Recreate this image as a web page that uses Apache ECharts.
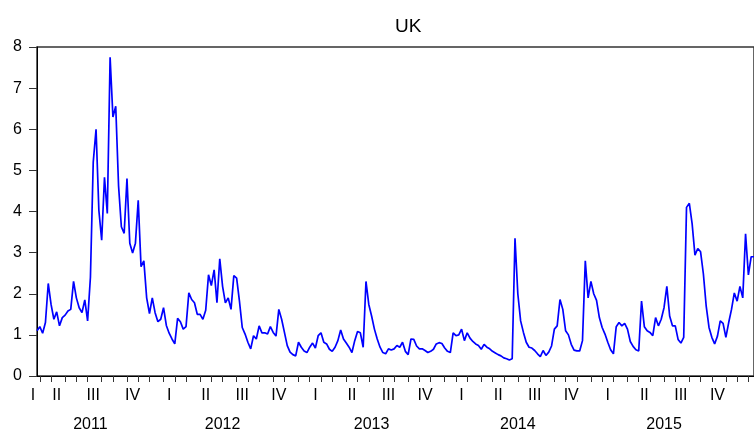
<!DOCTYPE html>
<html><head><meta charset="utf-8">
<script src="https://cdn.jsdelivr.net/npm/echarts@6/dist/echarts.min.js"></script>
<style>html,body{margin:0;padding:0;background:#fff}#c{width:754px;height:433px}</style>
</head><body><div id="c"></div>
<script>
// Weekly observations starting 2011-03-25
const startDate = [2011, 2, 25];
const stepDays = 7;
const values = [
1.10,1.20,1.04,1.30,2.25,1.74,1.38,1.56,1.22,1.42,
1.48,1.58,1.62,2.30,1.90,1.66,1.54,1.85,1.34,2.40,
5.20,6.00,4.03,3.30,4.83,3.95,7.75,6.30,6.56,4.63,
3.63,3.47,4.80,3.23,2.99,3.23,4.27,2.66,2.80,1.90,
1.52,1.90,1.54,1.32,1.38,1.66,1.23,1.04,0.90,0.78,
1.40,1.32,1.14,1.20,2.02,1.86,1.78,1.50,1.50,1.38,
1.60,2.46,2.20,2.58,1.78,2.85,2.18,1.78,1.90,1.62,
2.44,2.38,1.82,1.18,1.02,0.82,0.66,0.98,0.90,1.22,
1.05,1.05,1.02,1.20,1.06,0.97,1.62,1.38,1.06,0.74,
0.58,0.52,0.49,0.82,0.70,0.61,0.57,0.70,0.80,0.68,
0.98,1.05,0.82,0.78,0.65,0.60,0.70,0.86,1.12,0.90,
0.80,0.70,0.57,0.86,1.08,1.05,0.70,2.30,1.74,1.46,
1.14,0.90,0.70,0.57,0.54,0.66,0.63,0.66,0.74,0.70,
0.82,0.60,0.52,0.90,0.89,0.73,0.66,0.66,0.62,0.57,
0.60,0.65,0.78,0.81,0.79,0.68,0.60,0.57,1.05,0.98,
1.00,1.14,0.86,1.05,0.92,0.84,0.78,0.74,0.65,0.77,
0.70,0.66,0.60,0.56,0.52,0.49,0.44,0.42,0.39,0.42,
3.35,2.00,1.34,1.06,0.82,0.70,0.68,0.62,0.54,0.47,
0.62,0.50,0.58,0.73,1.14,1.22,1.86,1.62,1.10,1.00,
0.77,0.63,0.61,0.61,0.86,2.80,1.90,2.30,2.00,1.84,
1.42,1.18,1.02,0.82,0.64,0.54,1.20,1.30,1.22,1.28,
1.14,0.84,0.72,0.64,0.61,1.82,1.20,1.10,1.06,0.98,
1.42,1.22,1.38,1.66,2.18,1.46,1.22,1.22,0.89,0.80,
0.94,4.10,4.20,3.70,2.94,3.10,3.02,2.48,1.70,1.18,
0.94,0.78,0.97,1.34,1.28,0.94,1.30,1.62,2.02,1.82,
2.18,1.90,3.46,2.46,2.90,2.90
];
const quarterNames = ['I','II','III','IV'];
const years = [2011, 2012, 2013, 2014, 2015];
const yearLabelDates = [[2011,7,5],[2012,6,2],[2013,6,2],[2014,6,2],[2015,6,2]];
const quarterMidDates = [[1,14],[4,16],[7,15],[10,15]]; // [month(0-based), day]
const yTicks = [0,1,2,3,4,5,6,7,8];

const DAY = 86400000;
const t0 = Date.UTC(startDate[0], startDate[1], startDate[2]);
const categories = values.map((v, i) => new Date(t0 + i * stepDays * DAY).toISOString().slice(0, 10));
const nearest = (y, m, d) => Math.round((Date.UTC(y, m, d) - t0) / (stepDays * DAY));

const tickIdx = new Set();
for (let y = 2011; y <= 2016; y++) for (let m = 0; m < 12; m++) {
  const k = nearest(y, m, 1);
  if (k > 0 && k < values.length) tickIdx.add(k);
}
const quarterIdx = {};
years.forEach(y => quarterMidDates.forEach((q, qi) => {
  let k = nearest(y, q[0], q[1]);
  if (k < 0) k = 0;
  if (k < values.length - 1) quarterIdx[k] = quarterNames[qi];
}));
const yearIdx = {};
yearLabelDates.forEach((d, j) => { yearIdx[nearest(d[0], d[1], d[2])] = String(years[j]); });

const font = 'Liberation Sans, Arial, sans-serif';
const chart = echarts.init(document.getElementById('c'), null, {renderer: 'canvas'});
chart.setOption({
  animation: false,
  backgroundColor: '#fff',
  title: {
    text: 'UK', left: 390, top: 12,
    textStyle: {fontFamily: font, fontSize: 19, fontWeight: 'normal', color: '#000'}
  },
  grid: {left: 37, top: 47, right: -1.9, bottom: 52, show: true, borderColor: '#333', borderWidth: 1.5, backgroundColor: 'transparent'},
  xAxis: [{
    type: 'category', data: categories, boundaryGap: false,
    axisLine: {show: true, lineStyle: {color: '#000', width: 1}},
    axisTick: {show: true, length: 6, lineStyle: {color: '#333'}, interval: (i) => tickIdx.has(i)},
    axisLabel: {
      interval: (i) => quarterIdx[i] !== undefined,
      formatter: (v, i) => i === 0 ? '{a|' + quarterIdx[i] + '}' : (quarterIdx[i] || ''),
      rich: {a: {fontFamily: font, fontSize: 16, color: '#000', padding: [0, 8, 0, 0]}},
      fontFamily: font, fontSize: 16, color: '#000', margin: 12
    },
    splitLine: {show: false}
  }, {
    type: 'category', data: categories, boundaryGap: false, position: 'bottom',
    axisLine: {show: false}, axisTick: {show: false},
    axisLabel: {
      interval: (i) => yearIdx[i] !== undefined,
      formatter: (v, i) => yearIdx[i] || '',
      fontFamily: font, fontSize: 16, color: '#000', margin: 41
    },
    splitLine: {show: false}
  }],
  yAxis: {
    type: 'value', min: yTicks[0], max: yTicks[yTicks.length - 1], interval: 1,
    axisLine: {show: true, lineStyle: {color: '#000', width: 1}},
    axisTick: {show: true, length: 8, lineStyle: {color: '#333'}},
    axisLabel: {fontFamily: font, fontSize: 16, color: '#000', margin: 15},
    splitLine: {show: false}
  },
  series: [{
    type: 'line', data: values, xAxisIndex: 0, showSymbol: false, symbol: 'none',
    lineStyle: {color: '#0000ff', width: 1.7}, clip: true
  }]
});
</script></body></html>
